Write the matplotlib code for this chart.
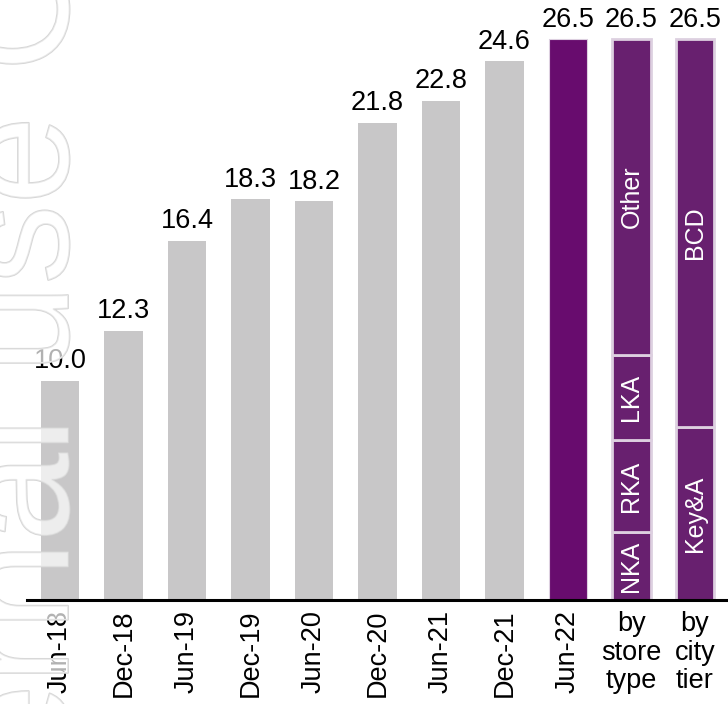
import numpy as np
import matplotlib
matplotlib.use("Agg")
import matplotlib.pyplot as plt
import matplotlib.patheffects as pe

plt.rcParams["font.family"] = ["Liberation Sans", "DejaVu Sans"]

# history (gray bars)
periods = ["Jun-18", "Dec-18", "Jun-19", "Dec-19", "Jun-20", "Dec-20", "Jun-21", "Dec-21"]
history = [10.0, 12.3, 16.4, 18.3, 18.2, 21.8, 22.8, 24.6]

# latest period and its splits (heights as drawn, labels as printed)
latest_label = "Jun-22"
latest_height = 25.6
total_labels = ["26.5", "26.5", "26.5"]

store_types = ["NKA", "RKA", "LKA", "Other"]
store_values = [3.1, 4.2, 3.9, 14.4]

city_tiers = ["Key&A", "BCD"]
city_values = [7.9, 17.7]

split_labels = ["by\nstore\ntype", "by\ncity\ntier"]

gray = "#c8c7c8"
purple_dark = "#680c6e"
purple = "#68206f"
edge = "#ddd0e0"

fig = plt.figure(figsize=(7.28, 7.04), dpi=100)
ax = fig.add_axes([27 / 728, 104 / 704, 701 / 728, 600 / 704])

x_hist = np.arange(len(history))
ax.bar(x_hist, history, width=0.6, color=gray)
for x, v in zip(x_hist, history):
    ax.text(x, v + 0.3, f"{v:.1f}", ha="center", va="bottom", fontsize=19.5)

x_latest = len(history)
ax.bar(x_latest, latest_height, width=0.6, color=purple_dark, edgecolor=edge, linewidth=0.8)

x_store = x_latest + 1
bottom = 0
for name, v in zip(store_types, store_values):
    ax.bar(x_store, v, bottom=bottom, width=0.6, color=purple, edgecolor=edge, linewidth=2)
    ax.text(x_store, bottom + v / 2, name, rotation=90, ha="center", va="center",
            color="white", fontsize=18)
    bottom += v

x_city = x_latest + 2
bottom = 0
for name, v in zip(city_tiers, city_values):
    ax.bar(x_city, v, bottom=bottom, width=0.6, color=purple, edgecolor=edge, linewidth=2)
    ax.text(x_city, bottom + v / 2, name, rotation=90, ha="center", va="center",
            color="white", fontsize=18)
    bottom += v

for x, lab in zip([x_latest, x_store, x_city], total_labels):
    ax.text(x, latest_height + 0.3, lab, ha="center", va="bottom", fontsize=19.5)

ax.set_xlim(-0.52, 10.52)
ax.set_ylim(0, 600 / 21.9)
ax.set_xticks(list(x_hist) + [x_latest])
ax.set_xticklabels(periods + [latest_label], rotation=90, fontsize=19.5)
ax.tick_params(axis="x", length=0, pad=7)
ax.set_yticks([])
for s in ["left", "right", "top"]:
    ax.spines[s].set_visible(False)
ax.spines["bottom"].set_linewidth(2.2)
ax.spines["bottom"].set_color("black")

for x, lab in zip([x_store, x_city], split_labels):
    ax.text(x, -0.5, lab, ha="center", va="top", fontsize=19.5, linespacing=1.13)

# watermark
fig.text(68 / 728, -0.35, "Internal use Only", rotation=90, rotation_mode="anchor",
         ha="left", va="baseline", fontsize=115, color=(1, 1, 1, 0.45),
         path_effects=[pe.Stroke(linewidth=1.3, foreground="#d6d6d6"), pe.Normal()],
         zorder=10)

fig.savefig("out.png", dpi=100)
